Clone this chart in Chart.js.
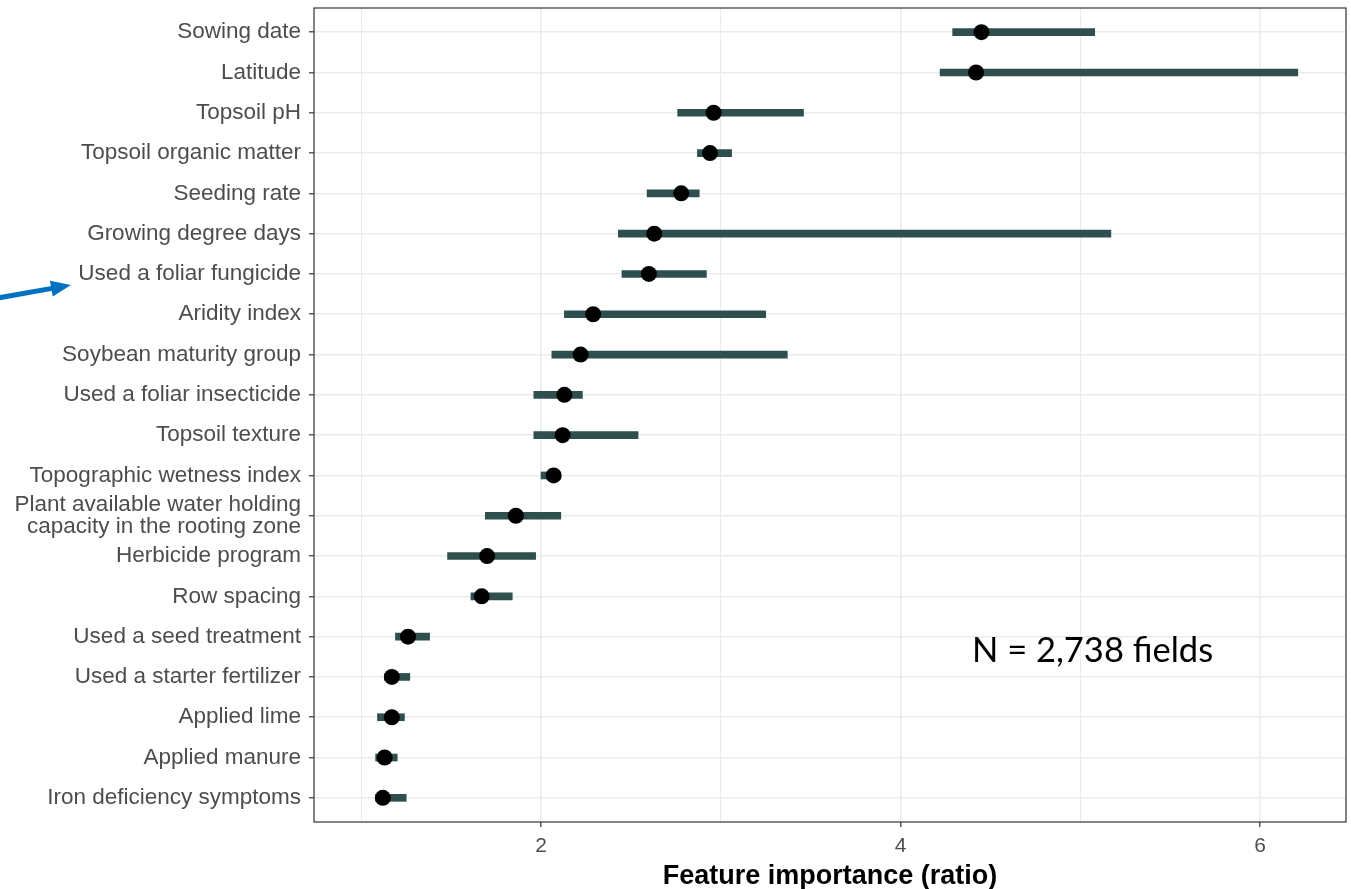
<!DOCTYPE html>
<html>
<head>
<meta charset="utf-8">
<script src="https://cdn.jsdelivr.net/npm/chart.js@4.4.1/dist/chart.umd.min.js"></script>
<style>
  html, body { margin: 0; padding: 0; background: #ffffff; }
  #wrap { width: 1351px; height: 889px; position: relative; }
</style>
</head>
<body>
<div id="wrap"><canvas id="c" width="1351" height="889"></canvas></div>
<script>
// ---- data ----
const categories = [
  "Sowing date",
  "Latitude",
  "Topsoil pH",
  "Topsoil organic matter",
  "Seeding rate",
  "Growing degree days",
  "Used a foliar fungicide",
  "Aridity index",
  "Soybean maturity group",
  "Used a foliar insecticide",
  "Topsoil texture",
  "Topographic wetness index",
  "Plant available water holding\ncapacity in the rooting zone",
  "Herbicide program",
  "Row spacing",
  "Used a seed treatment",
  "Used a starter fertilizer",
  "Applied lime",
  "Applied manure",
  "Iron deficiency symptoms"
];
const estimate = [4.45, 4.42, 2.96, 2.94, 2.78, 2.63, 2.60, 2.29, 2.22, 2.13, 2.12, 2.07, 1.86, 1.70, 1.67, 1.26, 1.17, 1.17, 1.13, 1.12];
const lower    = [4.29, 4.22, 2.76, 2.87, 2.59, 2.43, 2.45, 2.13, 2.06, 1.96, 1.96, 2.00, 1.69, 1.48, 1.61, 1.19, 1.13, 1.09, 1.08, 1.08];
const upper    = [5.08, 6.21, 3.46, 3.06, 2.88, 5.17, 2.92, 3.25, 3.37, 2.23, 2.54, 2.11, 2.11, 1.97, 1.84, 1.38, 1.27, 1.24, 1.20, 1.25];
const xTicks = [1, 2, 3, 4, 5, 6];
const xTickLabels = ["", "2", "", "4", "", "6"];
const xTitle = "Feature importance (ratio)";
const annotationText = "N = 2,738 fields";

// ---- chart ----
const extras = {
  id: 'extras',
  afterDraw(chart) {
    const ctx = chart.ctx;
    const a = chart.chartArea;
    ctx.save();
    // panel border
    ctx.strokeStyle = '#333333';
    ctx.lineWidth = 1.2;
    ctx.strokeRect(a.left, a.top, a.right - a.left, a.bottom - a.top);
    // annotation
    ctx.fillStyle = '#000000';
    ctx.font = '34.5px Lato, "Open Sans", sans-serif';
    ctx.textAlign = 'left';
    ctx.textBaseline = 'alphabetic';
    ctx.fillText(annotationText, 972, 662);
    // blue arrow
    ctx.strokeStyle = '#0070c0';
    ctx.fillStyle = '#0070c0';
    ctx.lineWidth = 5;
    const x0 = -2, y0 = 298, x1 = 71, y1 = 285;
    const ang = Math.atan2(y1 - y0, x1 - x0);
    const hl = 20, hw = 8;
    const bx = x1 - hl * Math.cos(ang), by = y1 - hl * Math.sin(ang);
    ctx.beginPath();
    ctx.moveTo(x0, y0);
    ctx.lineTo(bx + 2 * Math.cos(ang), by + 2 * Math.sin(ang));
    ctx.stroke();
    ctx.beginPath();
    ctx.moveTo(x1, y1);
    ctx.lineTo(bx + hw * Math.sin(ang), by - hw * Math.cos(ang));
    ctx.lineTo(bx - hw * Math.sin(ang), by + hw * Math.cos(ang));
    ctx.closePath();
    ctx.fill();
    ctx.restore();
  }
};

new Chart(document.getElementById('c'), {
  type: 'bar',
  data: {
    datasets: [
      {
        type: 'scatter',
        data: categories.map((c, i) => ({ x: estimate[i], y: i })),
        backgroundColor: '#000000',
        borderColor: '#000000',
        borderWidth: 0,
        pointRadius: 8,
        pointHoverRadius: 8,
        order: 0
      },
      {
        type: 'bar',
        indexAxis: 'y',
        data: categories.map((c, i) => ({ x: [lower[i], upper[i]], y: i })),
        backgroundColor: '#2f4f4f',
        borderWidth: 0,
        barThickness: 7,
        order: 1
      }
    ]
  },
  options: {
    responsive: false,
    animation: false,
    indexAxis: 'y',
    layout: { autoPadding: false, padding: { left: 0, right: 5, top: 8, bottom: 0 } },
    plugins: { legend: { display: false }, tooltip: { enabled: false } },
    scales: {
      x: {
        type: 'linear',
        position: 'bottom',
        min: 0.737,
        max: 6.478,
        offset: false,
        afterBuildTicks(scale) { scale.ticks = xTicks.map(v => ({ value: v })); },
        afterFit(scale) { scale.height = 67; scale.paddingLeft = 0; scale.paddingRight = 0; },
        grid: {
          offset: false,
          color: '#ebebeb',
          lineWidth: (ctx) => (ctx.tick && ctx.tick.value % 2 === 0) ? 1.6 : 1,
          tickLength: 5,
          tickColor: (ctx) => (ctx.tick && ctx.tick.value % 2 === 0) ? '#333333' : 'rgba(0,0,0,0)',
          tickWidth: 1.2
        },
        border: { display: false },
        ticks: {
          padding: 7,
          color: '#4d4d4d',
          font: { family: '"Liberation Sans", Arial, sans-serif', size: 21 },
          callback: (v) => { const k = xTicks.indexOf(v); return k >= 0 ? xTickLabels[k] : ''; }
        },
        title: {
          display: true,
          text: xTitle,
          color: '#000000',
          font: { family: '"Liberation Sans", Arial, sans-serif', size: 27, weight: 'bold', lineHeight: 0.95 },
          padding: { top: 0, bottom: 0 }
        }
      },
      y: {
        type: 'linear',
        reverse: true,
        offset: false,
        min: -0.6,
        max: categories.length - 1 + 0.6,
        afterBuildTicks(scale) { scale.ticks = categories.map((c, i) => ({ value: i })); },
        afterFit(scale) { scale.width = 314; scale.paddingTop = 0; scale.paddingBottom = 0; },
        grid: {
          offset: false,
          color: '#ebebeb',
          lineWidth: 1.6,
          tickLength: 5,
          tickColor: '#333333',
          tickWidth: 1.2
        },
        border: { display: false },
        ticks: {
          padding: 8,
          color: '#4d4d4d',
          autoSkip: false,
          font: { family: '"Liberation Sans", Arial, sans-serif', size: 22.5, lineHeight: 0.98 },
          callback: (v) => { const s = categories[v]; return s === undefined ? '' : (s.indexOf('\n') >= 0 ? s.split('\n') : s); }
        }
      }
    }
  },
  plugins: [extras]
});
</script>
</body>
</html>
